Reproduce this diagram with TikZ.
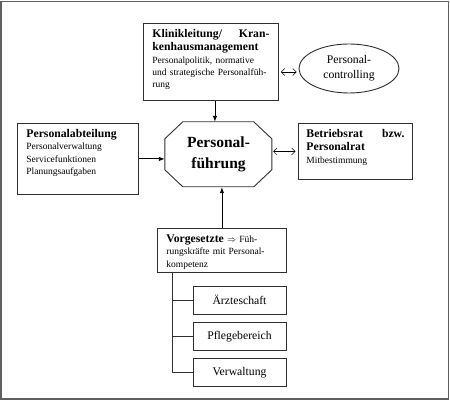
\documentclass[tikz,border=0pt]{standalone}
\usepackage{fontspec}
\setmainfont{Liberation Serif}
\usepackage{tikz}
\usetikzlibrary{arrows.meta,positioning,shapes.geometric}
\definecolor{orgFrame}{HTML}{606060}
\definecolor{orgLine}{HTML}{303030}
\newcommand{\hd}{\fontsize{11.7}{13.5}\selectfont\bfseries}
\newcommand{\sm}{\fontsize{9.5}{12.3}\selectfont}

\begin{document}
\begin{tikzpicture}[x=1pt, y=-1pt,
  every node/.style={font=\sm},
  box/.style={draw=orgLine, line width=0.9pt, anchor=north west, align=left, inner xsep=9pt, inner ysep=5.5pt, text height=8.5pt},
  oval/.style={draw=orgLine, line width=0.9pt, ellipse, minimum width=100pt, minimum height=49pt, inner sep=0pt, align=center, font=\fontsize{11.7}{15}\selectfont},
  leaf/.style={draw=orgLine, line width=0.9pt, minimum width=93pt, minimum height=28pt, inner sep=0pt, font=\fontsize{11.7}{14}\selectfont},
  pipe/.style={-{Latex[length=6pt,width=4.5pt]}, line width=0.9pt},
  dpipe/.style={{Straight Barb[length=3.5pt,width=7pt]}-{Straight Barb[length=3.5pt,width=7pt]}, line width=0.5pt},
  tree/.style={draw=orgLine, line width=0.9pt},
  node distance=7.5pt,
]
  \useasboundingbox (0,0) rectangle (450,401);
  \draw[orgFrame, line width=1.5pt] (1,1.5) rectangle (448.5,399);

  \node[box, text width=117pt, text depth=57.5pt] (klinik) at (143,23) {{\hd Klinikleitung/\hfill Kran-\\kenhausmanagement\par}Personalpolitik, normative\\und strategische Personalfüh-\\rung};
  \node[oval] (controlling) at (349,68.5) {Personal-\\controlling};

  \node[minimum width=107pt, minimum height=65pt, inner sep=0pt, align=center, font=\fontsize{15.5}{21}\selectfont\bfseries] (fuehrung) at (218.5,154.5) {Personal-\\führung};
  \draw[orgLine, line width=0.9pt] (fuehrung.north west) ++(18,0) -- ++(71,0) -- ++(18,17) -- ++(0,31) -- ++(-18,17) -- ++(-71,0) -- ++(-18,-17) -- ++(0,-31) -- cycle;

  \node[box, text width=103pt, text depth=51.5pt] (abteilung) at (17,123) {{\hd Personalabteilung\par}Personalverwaltung\\Servicefunktionen\\Planungsaufgaben};
  \node[box, inner xsep=8pt, text width=98pt, text depth=36.5pt] (betriebsrat) at (298,123) {{\hd Betriebsrat\hfill bzw.\\Personalrat\par}Mitbestimmung};
  \node[box, text width=111pt, text depth=24.5pt] (vorg) at (157,228) {{\hd Vorgesetzte} $\Rightarrow$ Füh-\\rungskräfte mit Personal-\\kompetenz};

  \node[leaf] (aerzte) at (239.5,300) {Ärzteschaft};
  \node[leaf, below=of aerzte] (pflege) {Pflegebereich};
  \node[leaf, below=of pflege] (verwaltung) {Verwaltung};

  % Baum unter den Vorgesetzten
  \coordinate (trunk) at ([xshift=15pt]vorg.south west);
  \draw[tree] (trunk) |- (verwaltung.west);
  \draw[tree] (trunk |- aerzte.west) -- (aerzte.west);
  \draw[tree] (trunk |- pflege.west) -- (pflege.west);

  \draw[pipe] ([xshift=4pt]klinik.south) -- ([xshift=4pt]klinik.south |- fuehrung.north);
  \draw[pipe] (vorg.north) -- (vorg.north |- fuehrung.south);
  \draw[pipe] (abteilung.east) -- (abteilung.east -| fuehrung.west);
  \draw[dpipe, shorten <=1pt, shorten >=2.5pt] (fuehrung.east |- betriebsrat.west) -- (betriebsrat.west);
  \coordinate (ctl) at ([yshift=-3.5pt]controlling.west);
  \draw[dpipe, shorten <=2pt, shorten >=2pt] (ctl -| klinik.east) -- (ctl);
\end{tikzpicture}
\end{document}
